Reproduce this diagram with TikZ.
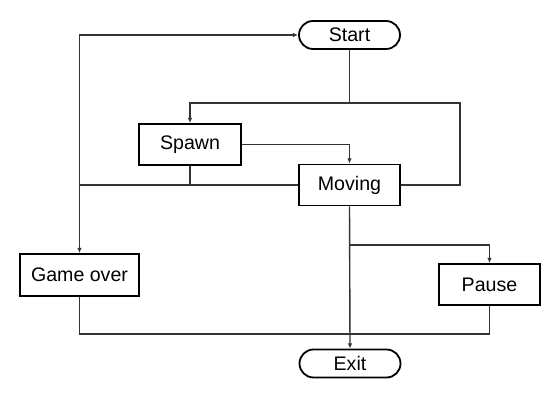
\documentclass[tikz,border=0pt]{standalone}
\usepackage{fontspec}
\setmainfont{Liberation Sans}
\usetikzlibrary{arrows.meta}
\begin{document}
\begin{tikzpicture}[x=0.5pt, y=-0.5pt, font=\fontsize{9.8pt}{12pt}\selectfont,
    proc/.style={draw, line width=0.9pt, inner sep=0pt, minimum width=50.5pt, minimum height=20.5pt},
    term/.style={proc, rounded corners=7pt, minimum height=14pt},
    link/.style={draw=black!80, line width=0.7pt},
    arr/.style={link, -{Latex[length=2.6pt, width=2.2pt]}}]
\useasboundingbox (0,0) rectangle (560,400);
% states
\node[term] (start) at (349.5,35) {Start};
\node[proc, minimum width=51pt] (spawn) at (190,144.5) {Spawn};
\node[proc] (moving) at (349.5,185) {Moving};
\node[proc, minimum width=59.5pt, minimum height=21pt] (gameover) at (79.5,275) {Game over};
\node[proc] (pause) at (489.5,284.5) {Pause};
\node[term] (exit) at (350,363.5) {Exit};
% junctions
\coordinate (split) at (349.5,103);
\coordinate (loopR) at (460,103);
\coordinate (joinL) at (79.5,185);
\coordinate (topL) at (79.5,35);
\coordinate (pauseSplit) at (349.5,245);
\coordinate (joinB) at (349.5,334);
% connectors
\draw[arr] (start) -- (split) -| (spawn);
\draw[link] (moving.east) -| (loopR) -- (split);
\draw[arr] (spawn.east) -| (moving.north);
\draw[link] (spawn.south) |- (joinL);
\draw[link] (moving.west) -- (joinL);
\draw[arr] (joinL) -- (gameover.north);
\draw[arr] (joinL) -- (topL) -- (start.west);
\draw[arr] (moving.south) -- (exit.north);
\draw[arr] (pauseSplit) -| (pause.north);
\draw[link] (gameover.south) |- (joinB);
\draw[link] (pause.south) |- (joinB);
\end{tikzpicture}
\end{document}
